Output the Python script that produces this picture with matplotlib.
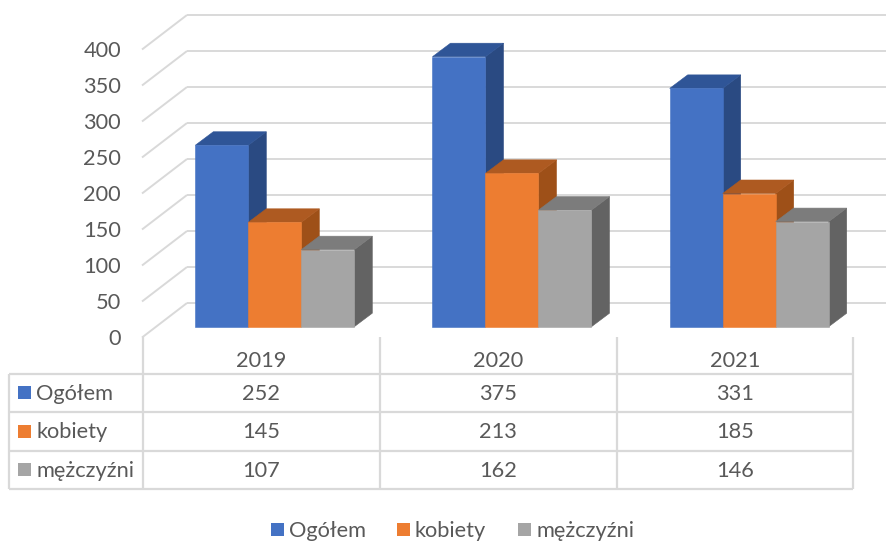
import matplotlib
matplotlib.use("Agg")
import matplotlib.pyplot as plt
from matplotlib.patches import Polygon, Rectangle
from matplotlib.transforms import Affine2D

plt.rcParams['font.family'] = ['Lato', 'Open Sans', 'DejaVu Sans']

years = ['2019', '2020', '2021']
series_names = ['Ogółem', 'kobiety', 'mężczyźni']
ogolem = [252, 375, 331]
kobiety = [145, 213, 185]
mezczyzni = [107, 162, 146]
y_ticks = [0, 50, 100, 150, 200, 250, 300, 350, 400]

series = [ogolem, kobiety, mezczyzni]
front = ['#4472C4', '#ED7D31', '#A5A5A5']
top = ['#2F5597', '#AE5A21', '#7C7C7C']
side = ['#2A4A82', '#9E5018', '#636363']
GRID = '#D9D9D9'
TXT = '#595959'
W, H = 886, 541
FS = 15.7

fig = plt.figure(figsize=(W / 100, H / 100), dpi=100, facecolor='white')
ax = fig.add_axes([0, 0, 1, 1])
ax.axis('off')

# Data axes: x in categories (one per 237.2 px), y in values (0.72 px/unit), zero at bar base
PX_X, PX_Y = 237.2, 0.72
X0, Y0 = 143.0, 326.7
ax.set_xlim((0 - X0) / PX_X, (W - X0) / PX_X)
ax.set_ylim((Y0 - H) / PX_Y, Y0 / PX_Y)
tf = Affine2D().scale(1, -1).translate(0, H)   # layout pixels, top-left origin


def line(xs, ys, lw=1.5, z=1):
    ax.plot(xs, ys, color=GRID, lw=lw, transform=tf, solid_capstyle='butt', zorder=z, clip_on=False)


def text(x, y, s, ha='center', color=TXT):
    ax.text(x, y + 1.2, s, transform=tf, ha=ha, va='center', fontsize=FS, color=color, zorder=6)


# Walls
for v in y_ticks:
    fy = 337.5 - v * PX_Y
    by = 303.0 - v * PX_Y
    line([142, 187], [fy, by], lw=1.4)
    line([187, W], [by, by], lw=1.4)
    text(121, fy, str(v), ha='right')

# 3D bars
BW = 53 / PX_X
DX, DY = 18 / PX_X, 13.5 / PX_Y
START = (195.3 - X0) / PX_X
for g in range(len(years)):
    for s, vals in enumerate(series):
        x0 = g + START + s * BW
        x1 = x0 + BW
        v = vals[g]
        z = 2 + g + s * 0.1
        ax.add_patch(Polygon([(x1, 0), (x1 + DX, DY), (x1 + DX, v + DY), (x1, v)],
                             facecolor=side[s], edgecolor=side[s], linewidth=0.4, zorder=z))
        ax.add_patch(Polygon([(x0, v), (x0 + DX, v + DY), (x1 + DX, v + DY), (x1, v)],
                             facecolor=top[s], edgecolor=top[s], linewidth=0.4, zorder=z))
        ax.bar(x0, v, width=BW, align='edge', color=front[s], edgecolor=front[s], linewidth=0.4, zorder=z + 0.01)

# Data table
cols = [142.5, 380, 616.7, 853]
rows = [374.3, 412.3, 450.7, 489]
for c in cols:
    line([c, c], [337, 489], lw=1.6)
line([9, 9], [rows[0], rows[-1]], lw=1.6)
for r in rows:
    line([9, 853], [r, r], lw=1.6)
for i, y in enumerate(years):
    text((cols[i] + cols[i + 1]) / 2, 359.5, y)
for r, (name, vals) in enumerate(zip(series_names, series)):
    cy = (rows[r] + rows[r + 1]) / 2 - 0.5
    ax.add_patch(Rectangle((18, cy - 6.5), 13, 13, transform=tf, facecolor=front[r], edgecolor='none', zorder=6))
    text(36, cy, name, ha='left')
    for i, v in enumerate(vals):
        text((cols[i] + cols[i + 1]) / 2, cy, str(v))

# Legend
for name, color, sx, tx in zip(series_names, front, [270.7, 396.7, 517.7], [289, 415, 536]):
    ax.add_patch(Rectangle((sx, 523), 13, 13, transform=tf, facecolor=color, edgecolor='none', zorder=6))
    text(tx, 530, name, ha='left')

fig.savefig('out.png', dpi=100, facecolor='white')
